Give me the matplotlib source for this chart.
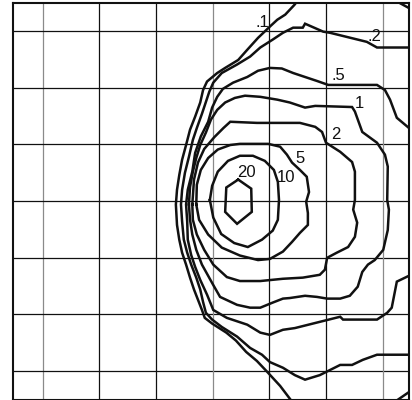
import numpy as np
import matplotlib.pyplot as plt

# Isopleth coordinates, grid units (10 per grid cell), y upward
c20_x = [34.5, 36.8, 36.9, 34.3, 32.2, 32.4]
c20_y = [33.8, 32.2, 28.1, 26.0, 28.1, 32.4]

c10_x = [29.5, 29.9, 30.9, 32.7, 34.8, 37.1, 39.2, 40.8, 41.5, 41.7, 41.5, 40.6, 38.7, 36.2, 33.8, 31.5, 30.1]
c10_y = [30.2, 32.7, 35.2, 37.1, 38.0, 38.0, 37.1, 35.5, 33.4, 30.2, 26.7, 24.8, 23.2, 21.9, 22.6, 24.2, 27.1]

c5_x = [27.1, 27.2, 27.9, 29.2, 30.9, 33.1, 34.8, 39.8, 41.9, 43.1, 44.0, 45.4, 46.6, 47.0, 46.5, 46.8, 46.8,
        45.4, 44.0, 42.4, 40.1, 38.0, 34.8, 31.6, 29.2, 27.6]
c5_y = [29.4, 32.9, 35.5, 37.6, 39.1, 39.9, 40.1, 40.1, 39.6, 38.2, 36.8, 35.5, 34.3, 31.6, 29.9, 27.9, 25.8,
        24.4, 22.8, 21.1, 19.8, 19.6, 20.4, 21.8, 24.1, 26.7]

c2_x = [26.4, 26.7, 27.4, 28.5, 30.3, 31.9, 33.1, 37.8, 45.4, 48.1, 49.3, 50.0, 52.5, 54.6, 55.1, 55.1, 54.8,
        55.5, 55.1, 53.9, 51.9, 50.2, 49.8, 48.9, 45.9, 42.4, 38.4, 34.8, 32.5, 30.1, 28.5, 27.2, 26.5]
c2_y = [29.4, 33.8, 36.8, 39.2, 41.3, 42.9, 44.0, 43.8, 43.8, 43.1, 42.2, 40.3, 38.7, 36.9, 35.2, 30.2, 28.5,
        26.2, 23.7, 21.9, 20.9, 20.0, 17.9, 17.0, 16.5, 16.3, 15.9, 15.9, 16.6, 18.8, 21.4, 24.1, 26.7]

c1_x = [25.8, 26.0, 26.5, 27.1, 27.8, 28.8, 29.7, 30.8, 32.2, 33.9, 35.7, 38.4, 41.4, 43.6, 46.3, 48.1, 54.6,
        55.1, 56.4, 59.0, 60.4, 60.9, 60.8, 61.1, 60.9, 60.1, 58.6, 57.4, 56.4, 55.6, 54.2, 52.5, 50.2, 48.4,
        46.3, 43.6, 42.4, 40.6, 38.4, 36.6, 34.3, 31.3, 30.1, 28.1, 27.1, 26.4, 26.0]
c1_y = [29.4, 32.5, 35.2, 37.6, 39.9, 42.1, 44.4, 46.1, 47.4, 48.2, 48.6, 48.4, 47.9, 47.4, 46.5, 46.8, 46.6,
        45.8, 42.2, 40.3, 38.2, 36.1, 30.2, 28.5, 24.9, 21.4, 19.6, 18.8, 17.5, 14.9, 13.3, 12.8, 12.8, 13.1,
        13.3, 12.9, 12.8, 12.1, 11.2, 11.2, 11.7, 13.1, 15.2, 18.8, 21.4, 24.1, 26.7]

c05_x = [65.0, 62.5, 61.3, 60.4, 59.0, 50.4, 48.4, 44.2, 42.2, 40.1, 38.0, 36.1, 33.6, 31.8, 30.8, 29.9, 29.2,
         27.9, 26.9, 26.4, 25.6, 25.3, 25.5, 25.6, 26.2, 26.9, 27.8, 29.0, 30.1, 32.5, 36.1, 38.4, 40.1, 42.4,
         44.5, 52.5, 53.0, 59.0, 60.8, 61.6, 62.5, 65.0]
c05_y = [42.6, 44.7, 47.9, 49.6, 50.5, 50.5, 51.2, 52.6, 53.4, 53.5, 53.0, 51.9, 50.9, 49.8, 48.4, 46.5, 44.0,
         41.4, 38.5, 35.2, 32.0, 29.4, 26.4, 23.2, 20.5, 18.4, 16.1, 13.5, 10.8, 9.4, 8.2, 6.8, 6.4, 7.3,
         7.6, 9.6, 9.1, 9.1, 10.3, 11.2, 15.8, 17.0]

c02_x = [65.0, 59.0, 57.2, 50.7, 49.5, 46.3, 45.9, 44.2, 42.4, 40.6, 38.4, 36.6, 34.3, 31.6, 30.1, 29.4, 28.8,
         28.1, 27.2, 26.5, 25.8, 25.1, 24.6, 24.4, 24.6, 24.9, 25.5, 26.2, 27.1, 27.8, 28.3, 28.8, 29.9, 31.6,
         34.3, 36.6, 38.7, 40.1, 42.4, 44.5, 46.3, 48.9, 52.5, 54.6, 56.5, 59.0, 65.0]
c02_y = [57.1, 57.1, 58.1, 59.7, 59.9, 61.3, 60.6, 60.6, 59.7, 58.5, 57.1, 55.5, 54.1, 52.6, 50.9, 49.3, 47.5,
         45.4, 42.9, 40.8, 37.8, 35.0, 32.0, 29.4, 26.4, 23.2, 20.9, 18.8, 16.5, 14.4, 12.2, 10.3, 9.1, 7.8,
         6.1, 4.1, 2.9, 1.6, 0.6, -0.7, -1.5, -0.7, 1.1, 1.1, 2.0, 2.9, 2.9]

c01_x = [45.1, 44.4, 42.8, 41.4, 40.1, 38.0, 36.1, 34.5, 32.2, 30.8, 29.0, 28.3, 27.8, 26.9, 26.0, 25.3, 24.6,
         24.1, 23.7, 23.5, 23.7, 24.1, 24.6, 25.3, 26.0, 26.7, 27.4, 28.1, 28.6, 29.9, 32.4, 34.1, 35.9, 37.8,
         39.6, 41.9, 44.1]
c01_y = [65.5, 64.6, 62.9, 62.0, 60.8, 58.8, 56.7, 54.9, 53.5, 52.6, 51.1, 49.6, 47.4, 44.9, 42.6, 39.9, 37.3,
         34.6, 32.0, 29.4, 25.8, 23.2, 20.9, 18.8, 16.5, 14.4, 12.6, 10.8, 9.4, 8.4, 6.8, 5.4, 3.4, 1.8,
         -0.1, -2.6, -5.5]
# .1 line re-entering at the top right and bottom right corners
c01_top_x = [62.0, 65.5]
c01_top_y = [65.5, 63.6]
c01_bot_x = [62.3, 65.5]
c01_bot_y = [-5.3, -3.1]

# contour labels and where they sit
labels = [".1", ".2", ".5", "1", "2", "5", "10", "20"]
label_x = [38.7, 58.6, 52.1, 55.8, 51.8, 45.4, 42.9, 35.9]
label_y = [61.6, 59.0, 52.1, 47.2, 41.7, 37.6, 34.1, 35.0]

closed = [(c20_x, c20_y), (c10_x, c10_y), (c5_x, c5_y), (c2_x, c2_y), (c1_x, c1_y)]
opened = [(c05_x, c05_y), (c02_x, c02_y), (c01_x, c01_y),
          (c01_top_x, c01_top_y), (c01_bot_x, c01_bot_y)]

fig = plt.figure(figsize=(4.12, 4.0), dpi=100)
ax = fig.add_axes([12.7 / 412, 0.5 / 400, 396.6 / 412, 396.2 / 400])

# grid, some vertical lines are lighter
for v in range(0, 61, 10):
    col = "#8a8a8a" if v in (0, 30, 60) else "#111111"
    ax.axvline(v, color=col, lw=0.9, zorder=1)
    ax.axhline(v, color="#111111", lw=0.9, zorder=1)

for xs, ys in closed:
    ax.plot(np.append(xs, xs[0]), np.append(ys, ys[0]), color="#111111", lw=1.8,
            solid_joinstyle="miter", zorder=2)
for xs, ys in opened:
    ax.plot(xs, ys, color="#111111", lw=1.8, solid_joinstyle="miter", zorder=2)

for t, x, y in zip(labels, label_x, label_y):
    ax.text(x, y, t, fontsize=12, ha="center", va="center", color="#111111",
            family=["Liberation Sans Narrow", "Liberation Sans", "DejaVu Sans"], zorder=3)

ax.set_xlim(-5.3, 64.7)
ax.set_ylim(-5.0, 64.9)
ax.set_xticks([])
ax.set_yticks([])
for s in ax.spines.values():
    s.set_color("#111111")
    s.set_linewidth(1.5)

plt.savefig("out.png", dpi=100)
